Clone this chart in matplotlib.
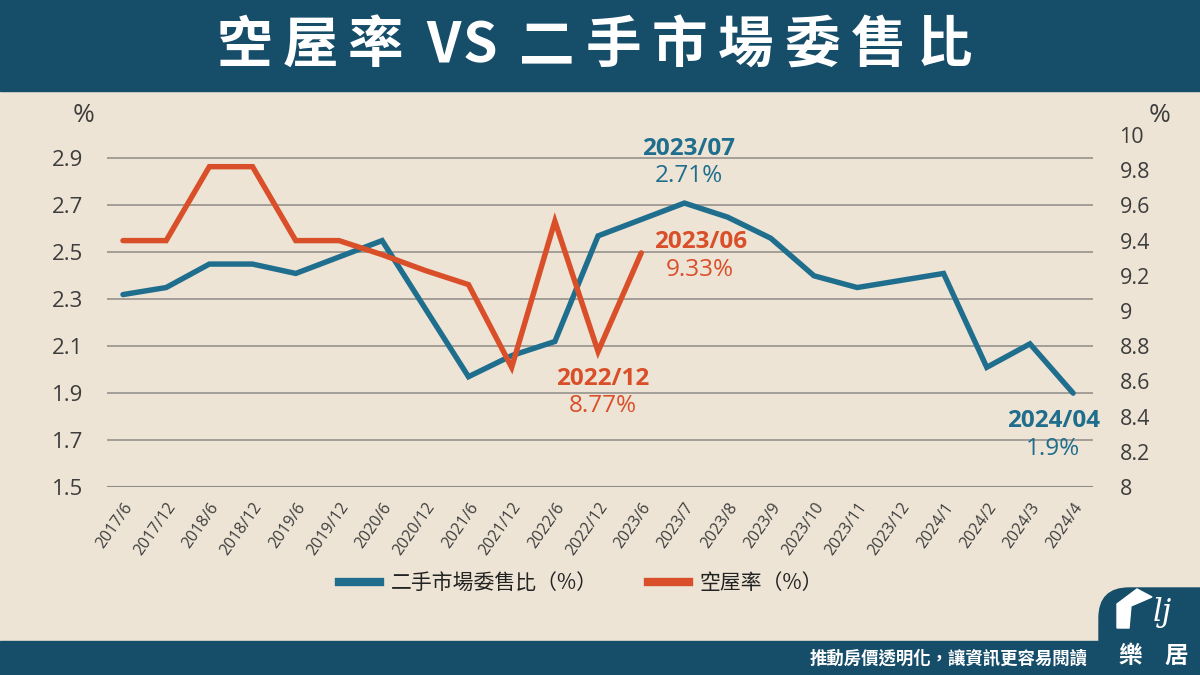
import matplotlib
matplotlib.use('Agg')
import matplotlib.pyplot as plt
from matplotlib.lines import Line2D
from matplotlib.patches import Rectangle, FancyBboxPatch, Polygon
from matplotlib.transforms import IdentityTransform

# ---- data ----
months = ['2017/6', '2017/12', '2018/6', '2018/12', '2019/6', '2019/12', '2020/6',
          '2020/12', '2021/6', '2021/12', '2022/6', '2022/12', '2023/6', '2023/7',
          '2023/8', '2023/9', '2023/10', '2023/11', '2023/12', '2024/1', '2024/2',
          '2024/3', '2024/4']
consign_ratio = [2.32, 2.35, 2.45, 2.45, 2.41, 2.48, 2.55, 2.26, 1.97, 2.06, 2.12, 2.57,
                 2.64, 2.71, 2.65, 2.56, 2.40, 2.35, 2.38, 2.41, 2.01, 2.11, 1.90]
vacancy_rate = [9.40, 9.40, 9.82, 9.82, 9.40, 9.40, 9.32, 9.23, 9.15, 8.68, 9.51, 8.77, 9.33]
left_ticks = [1.5, 1.7, 1.9, 2.1, 2.3, 2.5, 2.7, 2.9]
right_ticks = [8, 8.2, 8.4, 8.6, 8.8, 9, 9.2, 9.4, 9.6, 9.8, 10]

BG = '#ede4d5'
NAVY = '#164d69'
BLUE = '#1f6e8d'
RED = '#d94f29'
GRID = '#8e8b86'
TXT = '#3d3d3d'

plt.rcParams['font.family'] = ['Open Sans', 'Noto Sans CJK TC', 'DejaVu Sans']
CJK = ['Noto Sans CJK TC', 'DejaVu Sans']

W, H = 1200, 675
fig = plt.figure(figsize=(12, 6.75), dpi=100, facecolor=BG)


def fx(x):
    return x / W


def fy(y):
    return 1 - y / H


# header banner + title (letter-spaced, one glyph at a time)
fig.patches.append(Rectangle((0, fy(91)), 1, 1 - fy(91), transform=fig.transFigure,
                             color=NAVY, zorder=0))
title_glyphs = [('空', 245), ('屋', 304), ('率', 363), ('V', 425), ('S', 458),
                ('二', 518), ('手', 578), ('市', 638), ('場', 698), ('委', 758),
                ('售', 818), ('比', 878)]
for ch, cx in title_glyphs:
    fig.text(fx(245 + (cx - 245) * 1.105), fy(46), ch, color='white', fontsize=40,
             fontweight='heavy', family=CJK, ha='center', va='center')

# footer bar + logo tab
fig.patches.append(Rectangle((0, 0), W, 34, transform=IdentityTransform(), color=NAVY, zorder=0))
fig.patches.append(FancyBboxPatch((1099, -40), 160, 40 + (H - 588), transform=IdentityTransform(),
                                  boxstyle='round,pad=0,rounding_size=30', color=NAVY, zorder=0))
fig.patches.append(Polygon([(1117, H - 628), (1117, H - 604), (1137, H - 589), (1152, H - 597),
                            (1131, H - 606), (1129, H - 628)], closed=True,
                           transform=IdentityTransform(), color='white', zorder=1))
fig.text(fx(1162), fy(612), 'lj', color='white', fontsize=22, family='DejaVu Serif',
         style='italic', ha='center', va='center')
fig.text(fx(1130), fy(656), '樂', color='white', fontsize=17, fontweight='bold', family=CJK,
         ha='center', va='center')
fig.text(fx(1176), fy(656), '居', color='white', fontsize=17, fontweight='bold', family=CJK,
         ha='center', va='center')
fig.text(fx(1088), fy(659), '推動房價透明化，讓資訊更容易閱讀', color='white', fontsize=12.5,
         fontweight='bold', family=CJK, ha='right', va='center')

# ---- chart ----
ax = fig.add_axes([fx(107), fy(487), fx(1093) - fx(107), fy(135) - fy(487)])
ax.patch.set_alpha(0)
ax2 = ax.twinx()
x = list(range(len(months)))

ax.plot(x, consign_ratio, color=BLUE, lw=3.9, solid_joinstyle='miter', solid_capstyle='round')
ax2.plot(x[:len(vacancy_rate)], vacancy_rate, color=RED, lw=3.9, solid_joinstyle='miter',
         solid_capstyle='round')

ax.set_xlim(-0.37, 22.46)
ax.set_ylim(1.5, 3.0)
ax2.set_ylim(8, 10)
ax.set_yticks(left_ticks)
ax.set_yticklabels([f'{v:g}' for v in left_ticks])
ax2.set_yticks(right_ticks)
ax2.set_yticklabels([f'{v:g}' for v in right_ticks])
for t in left_ticks:
    ax.axhline(t, color=GRID, lw=1.1 if t > 1.5 else 1.5, zorder=0)

for a in (ax, ax2):
    for s in a.spines.values():
        s.set_visible(False)
ax.tick_params(axis='y', length=0, pad=17, labelsize=16, labelcolor=TXT)
ax2.tick_params(axis='y', length=0, pad=19, labelsize=15.5, labelcolor=TXT)
ax.set_xticks(x)
ax.set_xticklabels(months, rotation=55, ha='right', va='top', rotation_mode='anchor',
                   fontsize=11.5, color=TXT)
ax.tick_params(axis='x', length=0, pad=9)

fig.text(fx(84), fy(116), '%', fontsize=19, color=TXT, ha='center', va='center')
fig.text(fx(1160), fy(115), '%', fontsize=19, color=TXT, ha='center', va='center')


def callout(a, i, v, head, value, color, dx, dy_head, dy_val, ha='center'):
    a.annotate(head, (i, v), xytext=(dx, dy_head), textcoords='offset pixels', color=color,
               fontsize=17.5, fontweight='bold', ha=ha, va='center')
    a.annotate(value, (i, v), xytext=(dx, dy_val), textcoords='offset pixels', color=color,
               fontsize=17.5, ha=ha, va='center')


callout(ax, 13, consign_ratio[13], '2023/07', '2.71%', BLUE, 4, 54, 27)
callout(ax, 22, consign_ratio[22], '2024/04', '1.9%', BLUE, -20, -28, -56)
callout(ax2, 12, vacancy_rate[12], '2023/06', '9.33%', RED, 59, 11, -17)
callout(ax2, 11, vacancy_rate[11], '2022/12', '8.77%', RED, 5, -28, -55)

handles = [Line2D([], [], color=BLUE, lw=6), Line2D([], [], color=RED, lw=6)]
leg = fig.legend(handles, ['二手市場委售比（%）', '空屋率（%）'], loc='center',
                 bbox_to_anchor=(fx(581), fy(583)), ncol=2, frameon=False,
                 handlelength=2.0, handletextpad=0.5, columnspacing=2.4,
                 prop={'family': CJK, 'size': 15, 'weight': 'medium'})
for t in leg.get_texts():
    t.set_color('#222222')

fig.savefig('out.png', dpi=100, facecolor=BG)
